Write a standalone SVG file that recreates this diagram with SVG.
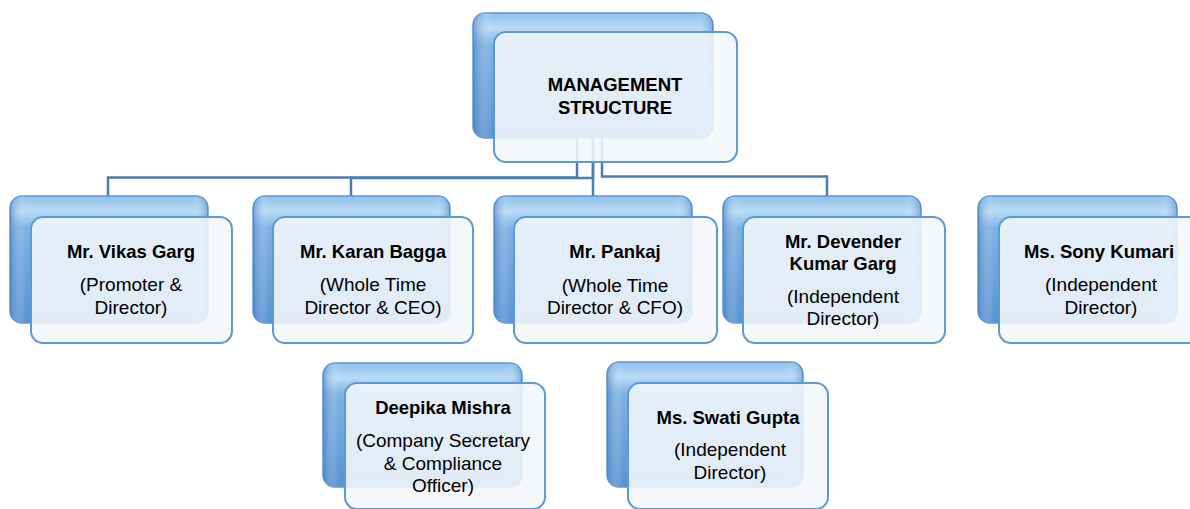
<svg xmlns="http://www.w3.org/2000/svg" width="1190" height="509" viewBox="0 0 1190 509">
<defs>
<linearGradient id="backG" x1="0" y1="0" x2="0" y2="1">
<stop offset="0" stop-color="#8fc0ec"/>
<stop offset="0.12" stop-color="#b9dbf6"/>
<stop offset="0.25" stop-color="#7fb2e4"/>
<stop offset="1" stop-color="#5a93d2"/>
</linearGradient>
<linearGradient id="backH" x1="0" y1="0" x2="1" y2="0">
<stop offset="0" stop-color="#3f7bc0" stop-opacity="0.6"/>
<stop offset="0.08" stop-color="#ffffff" stop-opacity="0"/>
<stop offset="0.92" stop-color="#ffffff" stop-opacity="0"/>
<stop offset="1" stop-color="#3f7bc0" stop-opacity="0.5"/>
</linearGradient>
<style>
.back{fill:url(#backG);stroke:#5d97d2;stroke-width:1.5}
.backs{fill:url(#backH)}
.front{fill:#f3f7fb;fill-opacity:0.88;stroke:#5b9bd5;stroke-width:2}
.conn{fill:none;stroke:#4a7db5;stroke-width:2.5}
text{font-family:"Liberation Sans",Arial,sans-serif;text-anchor:middle;fill:#000}
.b{font-weight:bold;font-size:18.5px}
.r{font-size:19px}
</style>
</defs>
<g id="connectors">
<path class="conn" d="M577,138 V177.5 H108 V197"/>
<path class="conn" d="M593,138 V178 H351 V197"/>
<path class="conn" d="M593,138 V197"/>
<path class="conn" d="M602,138 V176.5 H827 V197"/>
</g>
<g id="node-top">
<rect class="back" x="473" y="13" width="240" height="125" rx="12"/>
<rect class="backs" x="473" y="13" width="240" height="125" rx="12"/>
<rect class="front" x="494" y="32" width="243" height="130" rx="12"/>
<text class="b" x="615" y="91">MANAGEMENT</text>
<text class="b" x="615" y="114">STRUCTURE</text>
</g>
<g id="node-vikas">
<rect class="back" x="10" y="196" width="198" height="127" rx="12"/>
<rect class="backs" x="10" y="196" width="198" height="127" rx="12"/>
<rect class="front" x="31" y="217" width="201" height="126" rx="12"/>
<text class="b" x="131" y="258">Mr. Vikas Garg</text>
<text class="r" x="131" y="291">(Promoter &amp;</text>
<text class="r" x="131" y="314">Director)</text>
</g>
<g id="node-karan">
<rect class="back" x="253" y="196" width="197" height="127" rx="12"/>
<rect class="backs" x="253" y="196" width="197" height="127" rx="12"/>
<rect class="front" x="273" y="217" width="200" height="126" rx="12"/>
<text class="b" x="373" y="258">Mr. Karan Bagga</text>
<text class="r" x="373" y="291">(Whole Time</text>
<text class="r" x="373" y="314">Director &amp; CEO)</text>
</g>
<g id="node-pankaj">
<rect class="back" x="494" y="196" width="198" height="127" rx="12"/>
<rect class="backs" x="494" y="196" width="198" height="127" rx="12"/>
<rect class="front" x="514" y="217" width="203" height="126" rx="12"/>
<text class="b" x="615" y="258">Mr. Pankaj</text>
<text class="r" x="615" y="292">(Whole Time</text>
<text class="r" x="615" y="314">Director &amp; CFO)</text>
</g>
<g id="node-devender">
<rect class="back" x="723" y="196" width="198" height="127" rx="12"/>
<rect class="backs" x="723" y="196" width="198" height="127" rx="12"/>
<rect class="front" x="743" y="217" width="202" height="126" rx="12"/>
<text class="b" x="843" y="248">Mr. Devender</text>
<text class="b" x="843" y="270">Kumar Garg</text>
<text class="r" x="843" y="303">(Independent</text>
<text class="r" x="843" y="325">Director)</text>
</g>
<g id="node-sony">
<rect class="back" x="978" y="196" width="199" height="127" rx="12"/>
<rect class="backs" x="978" y="196" width="199" height="127" rx="12"/>
<rect class="front" x="999" y="217" width="202" height="126" rx="12"/>
<text class="b" x="1099" y="258">Ms. Sony Kumari</text>
<text class="r" x="1101" y="291">(Independent</text>
<text class="r" x="1101" y="314">Director)</text>
</g>
<g id="node-deepika">
<rect class="back" x="323" y="363" width="199" height="124" rx="12"/>
<rect class="backs" x="323" y="363" width="199" height="124" rx="12"/>
<rect class="front" x="345" y="383" width="200" height="126" rx="12"/>
<text class="b" x="443" y="414">Deepika Mishra</text>
<text class="r" x="443" y="447">(Company Secretary</text>
<text class="r" x="443" y="470">&amp; Compliance</text>
<text class="r" x="443" y="492">Officer)</text>
</g>
<g id="node-swati">
<rect class="back" x="607" y="362" width="196" height="125" rx="12"/>
<rect class="backs" x="607" y="362" width="196" height="125" rx="12"/>
<rect class="front" x="628" y="383" width="200" height="126" rx="12"/>
<text class="b" x="728" y="424">Ms. Swati Gupta</text>
<text class="r" x="730" y="456">(Independent</text>
<text class="r" x="730" y="479">Director)</text>
</g>
</svg>
